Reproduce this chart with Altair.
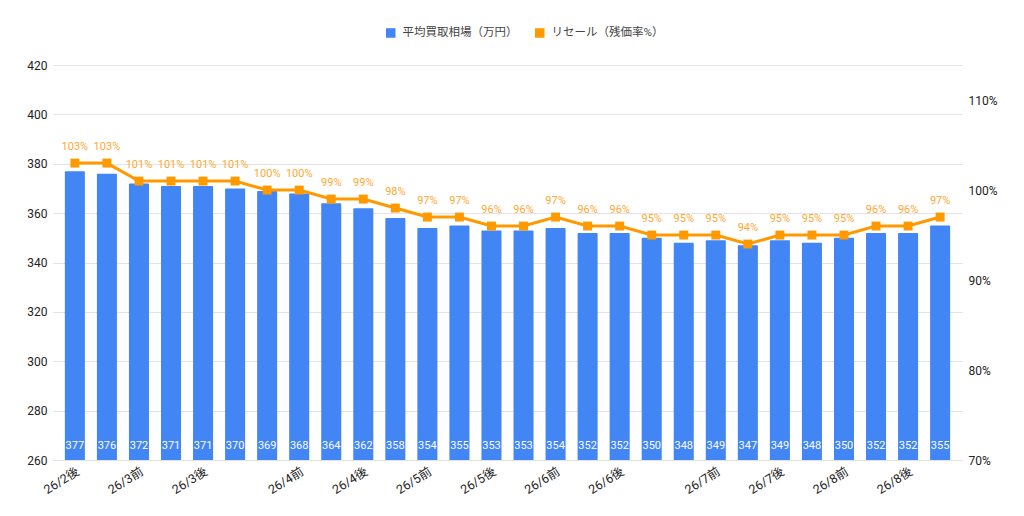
import altair as alt
import pandas as pd

FONT = "Roboto, 'Noto Sans CJK JP', sans-serif"
BLUE = "#4285F4"
ORANGE = "#FF9900"

SERIES = ["平均買取相場（万円）", "リセール（残価率%）"]

# tick labels per bar ("" = label skipped, as in the original)
periods = [
    "26/2後", "", "26/3前", "", "26/3後", "", "", "26/4前", "", "26/4後",
    "", "26/5前", "", "26/5後", "", "26/6前", "", "26/6後", "", "",
    "26/7前", "", "26/7後", "", "26/8前", "", "26/8後", "",
]
price = [
    377, 376, 372, 371, 371, 370, 369, 368, 364, 362, 358, 354, 355, 353,
    353, 354, 352, 352, 350, 348, 349, 347, 349, 348, 350, 352, 352, 355,
]
resale = [
    103, 103, 101, 101, 101, 101, 100, 100, 99, 99, 98, 97, 97, 96,
    96, 97, 96, 96, 95, 95, 95, 94, 95, 95, 95, 96, 96, 97,
]

df = pd.DataFrame({
    "idx": list(range(len(price))),
    "price": price,
    "resale": resale,
})
df["pct"] = df["resale"].astype(str) + "%"

label_array = "[" + ",".join(f"'{p}'" for p in periods) + "]"

x = alt.X(
    "idx:O",
    title=None,
    scale=alt.Scale(paddingInner=0.375, paddingOuter=0.37),
    axis=alt.Axis(
        labelExpr=f"{label_array}[datum.value]",
        labelAngle=328,
        labelFontSize=12.5,
        labelColor="#222222",
        labelPadding=5,
        ticks=False,
        domain=False,
        grid=False,
    ),
)

color = alt.Color(
    "series:N",
    scale=alt.Scale(domain=SERIES, range=[BLUE, ORANGE]),
    legend=alt.Legend(
        title=None,
        orient="none",
        direction="horizontal",
        legendX=332,
        legendY=-38,
        symbolType="square",
        symbolSize=64,
        labelFontSize=11.5,
        labelColor="#444444",
        labelOffset=6,
        columnPadding=14,
    ),
)

y_left = alt.Y(
    "price:Q",
    title=None,
    scale=alt.Scale(domain=[260, 420], nice=False, zero=False),
    axis=alt.Axis(
        values=[260, 280, 300, 320, 340, 360, 380, 400, 420],
        labelFontSize=12,
        labelColor="#222222",
        labelPadding=6,
        ticks=False,
        domain=False,
        gridColor="#E3E3E3",
    ),
)

bars = (
    alt.Chart(df)
    .transform_calculate(series=f"'{SERIES[0]}'")
    .mark_bar(cornerRadiusTopLeft=1, cornerRadiusTopRight=1)
    .encode(x=x, y=y_left, y2=alt.Y2(datum=260), color=color)
)

bar_text = alt.Chart(df).mark_text(
    baseline="bottom", dy=-9, fontSize=11, color="white", font=FONT
).encode(
    x=x,
    y=alt.Y(datum=260),
    text="price:Q",
)

left = alt.layer(bars, bar_text)

y_right = alt.Y(
    "resale:Q",
    title=None,
    scale=alt.Scale(domain=[70, 113.9], nice=False, zero=False),
    axis=alt.Axis(
        orient="right",
        values=[70, 80, 90, 100, 110],
        labelExpr="datum.value + '%'",
        labelFontSize=12,
        labelColor="#222222",
        labelPadding=6,
        ticks=False,
        domain=False,
        grid=False,
    ),
)

line = (
    alt.Chart(df)
    .transform_calculate(series=f"'{SERIES[1]}'")
    .mark_line(strokeWidth=3)
    .encode(x=x, y=y_right, color=color)
)

points = alt.Chart(df).mark_point(
    shape="square", filled=True, size=80, opacity=1, color=ORANGE
).encode(x=x, y=y_right)

line_text = alt.Chart(df).mark_text(
    baseline="middle", dy=-16, fontSize=11, color="#FFA733", font=FONT
).encode(
    x=x,
    y=y_right,
    text="pct:N",
)

right = alt.layer(line, points, line_text)

chart = (
    alt.layer(left, right)
    .resolve_scale(y="independent")
    .properties(
        width=909,
        height=395,
        padding={"left": 18, "top": 19, "right": 5, "bottom": 5},
    )
    .configure(font=FONT)
    .configure_view(stroke=None)
)

chart.save("out.html", embed_options={"renderer": "svg", "actions": False})
